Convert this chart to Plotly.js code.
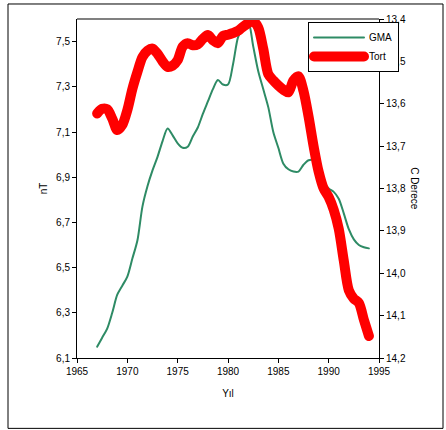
<!DOCTYPE html>
<html>
<head>
<meta charset="utf-8">
<script src="https://cdn.plot.ly/plotly-3.0.1.min.js"></script>
<style>html,body{margin:0;padding:0;background:#fff;}#chart{width:446px;height:430px;}
#chart path.js-line{stroke-linecap:round;stroke-linejoin:round;}</style>
</head>
<body>
<div id="chart"></div>
<script>
var years = [1967,1967.5,1968,1968.5,1969,1969.5,1970,1970.5,1971,1971.5,1972,1972.5,1973,1973.5,1974,1974.5,1975,1975.5,1976,1976.5,1977,1977.5,1978,1978.5,1979,1979.5,1980,1980.5,1981,1981.5,1982,1982.5,1983,1983.5,1984,1984.5,1985,1985.5,1986,1986.5,1987,1987.5,1988,1988.5,1989,1989.5,1990,1990.5,1991,1991.5,1992,1992.5,1993,1993.5,1994];
var gma = [6.15,6.19,6.23,6.30,6.38,6.42,6.46,6.54,6.62,6.77,6.86,6.93,6.99,7.06,7.115,7.085,7.05,7.03,7.035,7.08,7.12,7.18,7.235,7.29,7.33,7.31,7.31,7.40,7.52,7.565,7.59,7.48,7.37,7.29,7.21,7.10,7.03,6.96,6.935,6.925,6.925,6.955,6.975,6.975,6.93,6.88,6.85,6.835,6.805,6.74,6.67,6.625,6.60,6.59,6.585];
var tort = [13.623,13.612,13.613,13.635,13.662,13.650,13.615,13.565,13.525,13.49,13.475,13.47,13.482,13.50,13.513,13.51,13.497,13.465,13.457,13.462,13.46,13.447,13.438,13.45,13.457,13.44,13.437,13.433,13.428,13.418,13.41,13.405,13.42,13.47,13.53,13.545,13.557,13.567,13.573,13.545,13.535,13.57,13.63,13.70,13.76,13.80,13.82,13.85,13.895,13.97,14.04,14.06,14.07,14.11,14.148];
var seriesNames = ["GMA", "Tort"];
var xTitle = "Yıl", yTitle = "nT", y2Title = "C Derece";

var font = {family: "Liberation Sans, Arial, sans-serif", size: 10, color: "#000"};
var traces = [
  {x: years, y: gma, name: seriesNames[0], type: "scatter", mode: "lines",
   line: {color: "#2e8b65", width: 2, shape: "spline", smoothing: 0.8}, yaxis: "y"},
  {x: years, y: tort, name: seriesNames[1], type: "scatter", mode: "lines",
   line: {color: "#ff0000", width: 10, shape: "spline", smoothing: 0.8}, yaxis: "y2"}
];
var W = 302, H = 338.7;
var layout = {
  width: 446, height: 430,
  margin: {l: 77, r: 67, t: 19, b: 72.3},
  paper_bgcolor: "#fff", plot_bgcolor: "#fff",
  font: font,
  separators: ",.",
  showlegend: true,
  legend: {x: (308-77)/W, y: 1-(22-19)/H, xanchor: "left", yanchor: "top",
    bgcolor: "#fff", bordercolor: "#000", borderwidth: 1, font: font,
    itemwidth: 50, tracegroupgap: 0},
  xaxis: {range: [1965, 1995], dtick: 5, tick0: 1965, showgrid: false, zeroline: false,
    showline: true, linecolor: "#000", linewidth: 1, ticks: "outside", ticklen: 4, tickcolor: "#000",
    tickfont: font, title: {text: xTitle, font: font, standoff: 13}},
  yaxis: {range: [6.1, 7.6], dtick: 0.2, tick0: 6.1, tickformat: ".1f", showgrid: false, zeroline: false,
    showline: true, linecolor: "#000", linewidth: 1, ticks: "outside", ticklen: 4, tickcolor: "#000",
    tickfont: font, title: {text: yTitle, font: font, standoff: 6}},
  yaxis2: {range: [14.2, 13.4], dtick: 0.1, tick0: 13.4, tickformat: ".1f", overlaying: "y", side: "right",
    showgrid: false, zeroline: false, showline: true, linecolor: "#000", linewidth: 1,
    ticks: "outside", ticklen: 4, tickcolor: "#000", tickfont: font},
  shapes: [
    {type: "line", xref: "paper", yref: "paper", x0: 0, x1: 1, y0: 1, y1: 1,
     line: {color: "#808080", width: 2}},
    {type: "rect", xref: "paper", yref: "paper", x0: (8-77)/W, x1: (443-77)/W,
     y0: (357.7-428)/H, y1: (357.7-4)/H, line: {color: "#000", width: 1}, layer: "below"}
  ],
  annotations: [
    {text: y2Title, xref: "paper", yref: "paper", x: (415-77)/W, y: (357.7-188)/H,
     showarrow: false, textangle: 90, font: font, xanchor: "center", yanchor: "middle"}
  ]
};
Plotly.newPlot("chart", traces, layout, {displayModeBar: false, staticPlot: true});
</script>
</body>
</html>
